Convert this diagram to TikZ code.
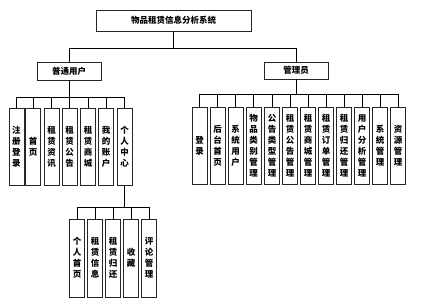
\documentclass[tikz,border=0pt]{standalone}
\usepackage{fontspec}
\newfontfamily\cjk{Noto Sans CJK SC}
\begin{document}
\begin{tikzpicture}[x=1pt,y=-1pt,
  box/.style={draw=black!85,line width=0.8pt,inner sep=0pt,align=center,
    font=\cjk\bfseries\fontsize{8.5}{11}\selectfont},
  hbox/.style={box,minimum width=64pt,minimum height=18pt},
  vbox/.style={box,minimum width=15pt,minimum height=77pt},
  link/.style={draw=black,line width=0.7pt}]
\useasboundingbox (0,0) rectangle (441,306);
\node[box,minimum width=155pt,minimum height=21pt] (root) at (173.5,20.5) {物品租赁信息分析系统};
\node[hbox] (user) at (69,71) {普通用户};
\node[hbox,minimum height=17pt] (admin) at (296,70.5) {管理员};
% user children
\node[vbox] (u1) at (16.5,146.5) {注\\册\\登\\录};
\node[vbox] (u2) at (33,146.5) {首\\页};
\node[vbox] (u3) at (51.5,146.5) {租\\赁\\资\\讯};
\node[vbox] (u4) at (69.5,146.5) {租\\赁\\公\\告};
\node[vbox] (u5) at (88,146.5) {租\\赁\\商\\城};
\node[vbox] (u6) at (106,146.5) {我\\的\\账\\户};
\node[vbox] (u7) at (124.5,146.5) {个\\人\\中\\心};
% admin children
\node[vbox] (a1) at (199.5,145.5) {登\\录};
\node[vbox] (a2) at (217.5,145.5) {后\\台\\首\\页};
\node[vbox] (a3) at (235.5,145.5) {系\\统\\用\\户};
\node[vbox] (a4) at (253.5,145.5) {物\\品\\类\\别\\管\\理};
\node[vbox] (a5) at (272,145.5) {公\\告\\类\\型\\管\\理};
\node[vbox] (a6) at (290,145.5) {租\\赁\\公\\告\\管\\理};
\node[vbox] (a7) at (308,145.5) {租\\赁\\商\\城\\管\\理};
\node[vbox] (a8) at (326,145.5) {租\\赁\\订\\单\\管\\理};
\node[vbox] (a9) at (344,145.5) {租\\赁\\归\\还\\管\\理};
\node[vbox] (a10) at (362,145.5) {用\\户\\分\\析\\管\\理};
\node[vbox] (a11) at (380,145.5) {系\\统\\管\\理};
\node[vbox] (a12) at (398,145.5) {资\\源\\管\\理};
% personal center children
\node[vbox,minimum height=78pt] (p1) at (77,258) {个\\人\\首\\页};
\node[vbox,minimum height=78pt] (p2) at (95,258) {租\\赁\\信\\息};
\node[vbox,minimum height=78pt] (p3) at (113,258) {租\\赁\\归\\还};
\node[vbox,minimum height=78pt] (p4) at (131,258) {收\\藏};
\node[vbox,minimum height=78pt] (p5) at (149,258) {评\\论\\管\\理};
% connectors
\foreach \c in {user,admin} \draw[link] (root.south) -- ++(0,17) -| (\c.north);
\foreach \c in {u1,u2,u3,u4,u5,u6,u7} \draw[link] (user.south) -- ++(0,17) -| (\c.north);
\foreach \c in {a1,a2,a3,a4,a5,a6,a7,a8,a9,a10,a11,a12} \draw[link] (admin.south) -- ++(0,15) -| (\c.north);
\foreach \c in {p1,p2,p3,p4,p5} \draw[link] (u7.south) -- ++(0,22) -| (\c.north);
\end{tikzpicture}
\end{document}
